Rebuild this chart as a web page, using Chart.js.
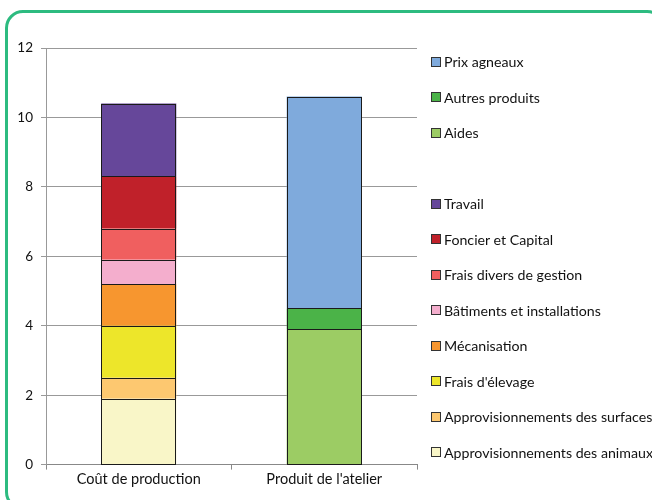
<!DOCTYPE html>
<html>
<head>
<meta charset="utf-8">
<script src="https://cdn.jsdelivr.net/npm/chart.js@4.4.0/dist/chart.umd.min.js"></script>
<style>
  body { margin: 0; background: #fff; font-family: Lato, sans-serif; }
  #frame { position: absolute; left: 5px; top: 10px; width: 660px; height: 500px;
    border: 3px solid #2dbb80; border-radius: 18px; box-sizing: border-box; }
  #wrap { position: absolute; left: 0; top: 0; width: 652px; height: 500px; }
  #legend { position: absolute; left: 431px; top: 0; font-size: 14.2px; color: #111; }
  .item { position: absolute; white-space: nowrap; display: flex; align-items: center; }
  .box { width: 8px; height: 8px; border: 1px solid #333; margin-right: 3px; }
</style>
</head>
<body>
<div id="frame"></div>
<div id="wrap"><canvas id="my-chart" width="652" height="500"></canvas></div>
<div id="legend"></div>
<script>
'use strict';

// categories and series
let categories = ['Coût de production', "Produit de l'atelier"];
let seriesNames = [
  'Approvisionnements des animaux',
  'Approvisionnements des surfaces',
  "Frais d'élevage",
  'Mécanisation',
  'Bâtiments et installations',
  'Frais divers de gestion',
  'Foncier et Capital',
  'Travail',
  'Aides',
  'Autres produits',
  'Prix agneaux'
];
let seriesValues = [
  [1.9, null],
  [0.6, null],
  [1.5, null],
  [1.2, null],
  [0.7, null],
  [0.9, null],
  [1.5, null],
  [2.1, null],
  [null, 3.9],
  [null, 0.6],
  [null, 6.1]
];
let seriesColors = [
  '#f9f6c8', '#fdc870', '#ede62a', '#f7962f', '#f4aecd',
  '#f05f5f', '#c0212a', '#66479a', '#9ccc64', '#4bb348', '#7faadc'
];
let yTicks = [0, 2, 4, 6, 8, 10, 12];

// legend order top to bottom (null = blank row)
let legendOrder = [10, 9, 8, null, 7, 6, 5, 4, 3, 2, 1, 0];

const ctx = document.getElementById('my-chart').getContext('2d');

let datasets = [];
for (let i = 0; i < seriesNames.length; i++) {
  datasets.push({
    label: seriesNames[i],
    data: seriesValues[i],
    backgroundColor: seriesColors[i],
    borderWidth: 0,
    barPercentage: 0.405,
    categoryPercentage: 1
  });
}

// crisp 1px outline around each bar segment
const outlinePlugin = {
  id: 'outline',
  afterDatasetsDraw(chart) {
    const c = chart.ctx;
    c.save();
    c.strokeStyle = '#1a1a1a';
    c.lineWidth = 1;
    chart.data.datasets.forEach((ds, i) => {
      chart.getDatasetMeta(i).data.forEach((bar, j) => {
        if (ds.data[j] === null) return;
        const p = bar.getProps(['x', 'y', 'base', 'width'], true);
        const l = Math.round(p.x - p.width / 2) + 0.5;
        const r = Math.round(p.x + p.width / 2) - 0.5;
        const t = Math.round(Math.min(p.y, p.base)) + 0.5;
        const b = Math.round(Math.max(p.y, p.base)) + 0.5;
        c.strokeRect(l, t, r - l, b - t);
      });
    });
    c.restore();
  }
};

const myChart = new Chart(ctx, {
  type: 'bar',
  data: { labels: categories, datasets: datasets },
  plugins: [outlinePlugin],
  options: {
    responsive: false,
    animation: false,
    layout: { padding: { left: 0, right: 235, top: 48, bottom: 11 } },
    plugins: { legend: { display: false }, tooltip: { enabled: false } },
    scales: {
      x: {
        stacked: true,
        grid: { display: true, drawOnChartArea: false, offset: true, tickLength: 5, color: '#888' },
        border: { color: '#888' },
        ticks: { color: '#111', font: { family: 'Lato', size: 14.5 }, padding: 1 }
      },
      y: {
        stacked: true,
        min: 0,
        max: 12,
        afterBuildTicks: function(scale) {
          scale.ticks = yTicks.map(v => ({ value: v }));
        },
        afterFit: function(scale) { scale.width = 46; },
        grid: { color: '#999', tickLength: 5 },
        border: { color: '#999' },
        ticks: { color: '#111', font: { family: 'Lato', size: 13.5 }, padding: 8 }
      }
    }
  }
});

// html legend
let legend = document.getElementById('legend');
for (let r = 0; r < legendOrder.length; r++) {
  let idx = legendOrder[r];
  if (idx === null) continue;
  let item = document.createElement('div');
  item.className = 'item';
  item.style.top = (53 + r * 35.5) + 'px';
  let box = document.createElement('div');
  box.className = 'box';
  box.style.background = seriesColors[idx];
  item.appendChild(box);
  item.appendChild(document.createTextNode(seriesNames[idx]));
  legend.appendChild(item);
}
</script>
</body>
</html>
